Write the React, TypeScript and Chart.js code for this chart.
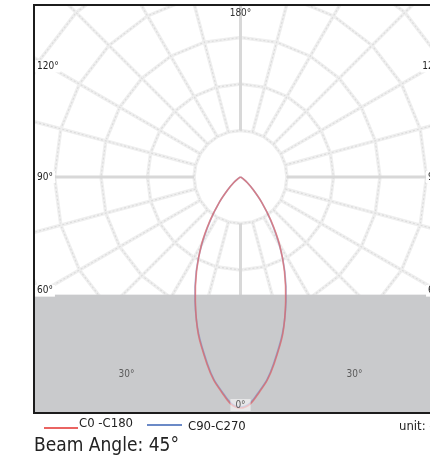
import React, { useEffect, useRef } from "react";
import { Chart, registerables } from "chart.js";

Chart.register(...registerables);

// Gamma angles (deg from nadir) and luminous intensity
const gammaAngles = [0, 2.5, 5, 7.5, 10, 15, 20, 25, 30, 35, 40, 45, 50, 55, 60, 70, 90];
const c0c180 = [231, 227, 216, 205, 191, 163, 132, 104, 78, 53, 33, 18, 9, 4, 1, 0, 0];
const c90c270 = [230, 226, 215, 204, 190, 162, 133, 105, 77, 52, 33, 18, 9, 4, 1, 0, 0];

// polar grid
const ringValues = [46.5, 93, 139.5, 186, 232.5];
const spokeStepDeg = 15;
const edgeLabelAngles = [120, 90, 60];
const lowerLabelAngles = [-30, 0, 30];
const lowerLabelRadius = 228;
const seriesNames = ["C0 -C180", "C90-C270"];
const unitText = "unit: cd";
const beamText = "Beam Angle: 45°";

const FONT = '"DejaVu Sans Condensed", "DejaVu Sans", sans-serif';

function toXY(vals: number[]) {
  const pts: { x: number; y: number }[] = [];
  for (let i = gammaAngles.length - 1; i >= 0; i--) {
    const t = (-gammaAngles[i] * Math.PI) / 180;
    pts.push({ x: vals[i] * Math.sin(t), y: -vals[i] * Math.cos(t) });
  }
  for (let i = 1; i < gammaAngles.length; i++) {
    const t = (gammaAngles[i] * Math.PI) / 180;
    pts.push({ x: vals[i] * Math.sin(t), y: -vals[i] * Math.cos(t) });
  }
  return pts;
}

const polarPlugin = {
  id: "polarPlugin",
  beforeDatasetsDraw(chart: any) {
    const { ctx, chartArea: a, scales } = chart;
    const xs = scales.x, ys = scales.y;
    const cx = xs.getPixelForValue(0);
    const cy = ys.getPixelForValue(0);
    const k = xs.getPixelForValue(1) - cx;
    const P = (r: number, deg: number) => {
      const t = (deg * Math.PI) / 180;
      return [cx + r * k * Math.sin(t), cy + r * k * Math.cos(t)];
    };
    ctx.save();
    ctx.beginPath();
    ctx.rect(a.left, a.top, a.right - a.left, a.bottom - a.top);
    ctx.clip();
    ctx.fillStyle = "#ffffff";
    ctx.fillRect(a.left, a.top, a.right - a.left, a.bottom - a.top);

    const strokeTextured = (build: () => void) => {
      ctx.setLineDash([]);
      ctx.strokeStyle = "#efefef";
      ctx.lineWidth = 3.5;
      ctx.beginPath();
      build();
      ctx.stroke();
      ctx.setLineDash([2, 2]);
      ctx.strokeStyle = "#dcdcdc";
      ctx.lineWidth = 1.2;
      ctx.beginPath();
      build();
      ctx.stroke();
      ctx.setLineDash([]);
    };
    // rings (polygons)
    strokeTextured(() => {
      ringValues.forEach((r) => {
        for (let d = 0; d <= 360; d += spokeStepDeg) {
          const [px, py] = P(r, d);
          if (d === 0) ctx.moveTo(px, py);
          else ctx.lineTo(px, py);
        }
      });
    });
    // spokes
    strokeTextured(() => {
      for (let d = 0; d < 360; d += spokeStepDeg) {
        if (d % 90 === 0) continue;
        const [x0, y0] = P(ringValues[0], d);
        const [x1, y1] = P(600, d);
        ctx.moveTo(x0, y0);
        ctx.lineTo(x1, y1);
      }
    });
    // main axes
    ctx.strokeStyle = "#d8d8d8";
    ctx.lineWidth = 3;
    ctx.beginPath();
    [0, 90, 180, 270].forEach((d) => {
      const [x0, y0] = P(ringValues[0], d);
      const [x1, y1] = P(600, d);
      ctx.moveTo(x0, y0);
      ctx.lineTo(x1, y1);
    });
    ctx.stroke();

    // gray lower band starting at the 60° edge label line
    const halfW = xs.max;
    const band = halfW / Math.tan((60 * Math.PI) / 180);
    const bandTop = ys.getPixelForValue(-band) - 1;
    ctx.fillStyle = "#c9cacc";
    ctx.fillRect(a.left, bandTop, a.right - a.left, a.bottom - bandTop);
    ctx.restore();
  },
  afterDatasetsDraw(chart: any) {
    const { ctx, chartArea: a, scales } = chart;
    const xs = scales.x, ys = scales.y;
    const cx = xs.getPixelForValue(0);
    const cy = ys.getPixelForValue(0);
    const k = xs.getPixelForValue(1) - cx;
    ctx.save();
    ctx.beginPath();
    ctx.rect(a.left, a.top, a.right - a.left, a.bottom - a.top);
    ctx.clip();
    ctx.font = `10px ${FONT}`;
    // top label
    ctx.fillStyle = "#333";
    ctx.textAlign = "center";
    ctx.textBaseline = "middle";
    ctx.fillText("180°", cx, a.top + 7);
    // edge labels
    edgeLabelAngles.forEach((deg) => {
      const t = (deg * Math.PI) / 180;
      const dy = (xs.max * Math.cos(t)) / Math.sin(t);
      let py = ys.getPixelForValue(-dy);
      const txt = `${deg}°`;
      let base: CanvasTextBaseline = "middle";
      if (deg > 90) { base = "top"; py += 3; }
      else if (deg < 90) { base = "bottom"; py += 0; }
      ctx.textBaseline = base;
      const w = ctx.measureText(txt).width;
      const top = base === "top" ? py - 1 : base === "bottom" ? py - 11 : py - 6;
      ctx.fillStyle = "#ffffff";
      ctx.fillRect(a.left, top, w + 4, 12);
      ctx.fillRect(a.right - w - 4, top, w + 4, 12);
      ctx.fillStyle = "#222";
      ctx.textAlign = "left";
      ctx.fillText(txt, a.left + 2, py);
      ctx.textAlign = "right";
      ctx.fillText(txt, a.right - 2, py);
    });
    // lower labels
    ctx.textAlign = "center";
    ctx.textBaseline = "middle";
    lowerLabelAngles.forEach((deg) => {
      const t = (deg * Math.PI) / 180;
      const px = cx + lowerLabelRadius * k * Math.sin(t);
      const py = cy + lowerLabelRadius * k * Math.cos(t);
      const txt = `${Math.abs(deg)}°`;
      if (deg === 0) {
        const w = ctx.measureText(txt).width;
        ctx.fillStyle = "rgba(255,255,255,0.55)";
        ctx.fillRect(px - w / 2 - 5, py - 6, w + 10, 12);
      }
      ctx.fillStyle = "#5a5a5a";
      ctx.fillText(txt, px, py);
    });
    ctx.restore();

    // frame (left, top, bottom)
    ctx.save();
    ctx.strokeStyle = "#1c1c1c";
    ctx.lineWidth = 2;
    ctx.beginPath();
    ctx.moveTo(a.right + 5, a.top - 1);
    ctx.lineTo(a.left - 1, a.top - 1);
    ctx.lineTo(a.left - 1, a.bottom);
    ctx.lineTo(a.right + 5, a.bottom);
    ctx.stroke();
    ctx.restore();
  },
  afterDraw(chart: any) {
    const { ctx, chartArea: a } = chart;
    ctx.save();
    ctx.lineWidth = 1.3;
    ctx.strokeStyle = "#e3312e";
    ctx.beginPath();
    ctx.moveTo(a.left + 9, a.bottom + 15);
    ctx.lineTo(a.left + 43, a.bottom + 15);
    ctx.stroke();
    ctx.strokeStyle = "#3a63b5";
    ctx.beginPath();
    ctx.moveTo(a.left + 112, a.bottom + 12);
    ctx.lineTo(a.left + 147, a.bottom + 12);
    ctx.stroke();
    ctx.fillStyle = "#222";
    ctx.font = `13px ${FONT}`;
    ctx.textAlign = "left";
    ctx.textBaseline = "middle";
    ctx.fillText(seriesNames[0], a.left + 44, a.bottom + 11);
    ctx.fillText(seriesNames[1], a.left + 153, a.bottom + 14);
    ctx.fillText(unitText, a.left + 364, a.bottom + 14);
    ctx.font = `19px ${FONT}`;
    ctx.textBaseline = "alphabetic";
    ctx.fillText(beamText, a.left - 1, a.bottom + 38);
    ctx.restore();
  },
};

export default function App() {
  const ref = useRef<HTMLCanvasElement | null>(null);
  useEffect(() => {
    document.body.style.margin = "0";
    if (!ref.current) return;
    const chart = new Chart(ref.current, {
      type: "scatter",
      data: {
        datasets: [
          {
            label: seriesNames[0],
            data: toXY(c0c180),
            showLine: true,
            borderColor: "rgba(226,100,100,0.7)",
            borderWidth: 1.6,
            pointRadius: 0,
            tension: 0.3,
          },
          {
            label: seriesNames[1],
            data: toXY(c90c270),
            showLine: true,
            borderColor: "rgba(100,125,195,0.55)",
            borderWidth: 1.6,
            pointRadius: 0,
            tension: 0.3,
          },
        ],
      },
      options: {
        animation: false,
        responsive: false,
        maintainAspectRatio: false,
        layout: { padding: { left: 35, right: 6, top: 6, bottom: 45 } },
        plugins: { legend: { display: false }, tooltip: { enabled: false } },
        scales: {
          x: { type: "linear", min: -205.5, max: 205.5, display: false },
          y: { type: "linear", min: -236, max: 171, display: false },
        },
      },
      plugins: [polarPlugin],
    });
    return () => chart.destroy();
  }, []);
  return (
    <div style={{ width: 430, height: 458, overflow: "hidden", position: "relative" }}>
      <canvas ref={ref} width={452} height={458} style={{ display: "block", width: 452, height: 458 }} />
    </div>
  );
}
